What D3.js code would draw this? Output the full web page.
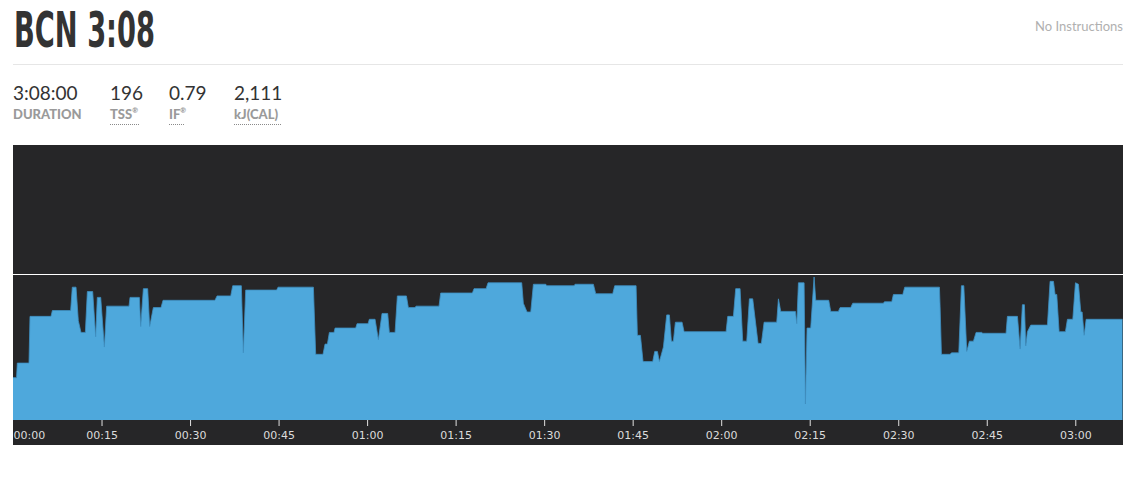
<!DOCTYPE html>
<html>
<head>
<meta charset="utf-8">
<script src="https://cdn.jsdelivr.net/npm/d3@7"></script>
<style>
  html, body { margin: 0; padding: 0; background: #fff; }
  svg { display: block; }
</style>
</head>
<body>
<svg id="chart" width="1148" height="483"></svg>
<script>
// ---- data ----
const workoutTitle = "BCN 3:08";
const instructionsText = "No Instructions";
const statValues = ["3:08:00", "196", "0.79", "2,111"];
const statLabels = ["DURATION", "TSS", "IF", "kJ(CAL)"];
const statRegistered = [false, true, true, false];
const statDotted = [false, true, true, true];

const durationMin = 188;
const ftpLinePct = 100;
const xTickMinutes = [0, 15, 30, 45, 60, 75, 90, 105, 120, 135, 150, 165, 180];

// time in minutes, power in % of FTP
const timeMin = [
  0, 0.6, 0.73, 2.71, 2.88, 6.44, 6.67, 9.77, 10.05, 10.68, 11.07, 11.52, 12.26, 12.6, 13.5, 14.01, 14.29, 14.86, 15.48, 15.87,
  19.66, 19.83, 21.41, 21.64, 22.09, 22.82, 23.16, 23.78, 25.08, 25.42, 34.23, 34.57, 36.89, 37.23, 38.69, 39.03, 39.43, 44.68, 44.91,
  50.9, 51.29, 52.53, 52.87, 53.27, 53.61, 54.4, 54.57, 58.07, 58.3, 60.16, 60.38, 61.35, 61.91, 62.53, 63.49, 63.77, 64.74, 65.13,
  66.66, 66.99, 68.12, 68.29, 72.19, 72.47, 77.84, 78.12, 80.16, 80.49, 86.2, 86.48, 87.1, 87.73, 88.18, 90.27, 90.44,
  95.07, 95.24, 98.34, 98.74, 101.62, 101.96, 105.58, 105.8, 106.31, 106.76, 108.4, 108.74, 109.19, 109.53, 110.21, 110.77, 111.22,
  111.56, 111.9, 112.24, 113.37, 113.71, 120.83, 121.11, 122.07, 122.46, 123.2, 123.65, 124.33, 124.78, 125.34, 126.25, 126.81,
  127.27, 129.41, 129.7, 130.09, 132.58, 132.81, 133.09, 134.05, 134.27, 134.55, 135.17, 135.74, 136.02, 138.22, 138.56, 139.86, 140.15,
  141.95, 142.29, 147.49, 147.66, 148.9, 149.18, 150.77, 151.1, 156.98, 157.09, 157.32, 158.79, 159.02, 160.26, 160.71, 161.11,
  161.61, 162.06, 162.74, 163.19, 164.15, 164.32, 168.27, 168.5, 170.2, 170.65, 171.04, 171.38, 171.61, 171.89, 172.46, 175.28,
  175.73, 176.3, 176.58, 176.86, 177.26, 178.33, 178.67, 179.58, 180.03, 180.54, 180.93, 181.16, 181.5, 181.84, 188
];
const powerPct = [
  29, 29, 39, 39, 71, 71, 75, 75, 91, 91, 68, 60, 60, 88, 88, 57, 84, 84, 50, 78,
  78, 84, 84, 64, 90, 90, 64, 77, 77, 82, 82, 85, 85, 92, 92, 46, 89, 89, 91,
  91, 45, 45, 52, 52, 60, 60, 63, 63, 66, 66, 69, 69, 55, 73, 73, 60, 60, 85,
  85, 77, 77, 78, 78, 87, 87, 90, 90, 94, 94, 80, 74, 74, 93, 93, 92,
  92, 93, 93, 86.5, 86.5, 92, 92, 58, 58, 40, 40, 47, 47, 40, 50, 72, 72,
  54, 54, 67, 67, 60.5, 60.5, 71, 71, 90, 90, 54, 54, 83, 83, 52.5, 52.5,
  67, 67, 83, 74.4, 74.4, 66, 94, 94, 11, 63, 63, 98, 82, 82, 74.4, 74.4, 77,
  77, 80, 80, 81, 81, 86, 86, 91, 91, 78, 45, 45, 46, 46, 92, 92,
  47, 54, 54, 60, 60, 59.4, 59.4, 71, 71, 48.6, 79, 79, 50.7, 60.5, 65, 65,
  95, 95, 86, 86, 60.5, 60.5, 69, 69, 94, 93, 74, 74, 58, 69, 69
];

// ---- layout ----
const svg = d3.select("#chart");
const plotLeft = 13, plotRight = 1122.5, plotTop = 145, plotBottom = 420, axisBottom = 445;

// header
svg.append("text")
  .attr("x", 14).attr("y", 46.5)
  .attr("font-family", "'Liberation Sans Narrow', 'DejaVu Sans Condensed', sans-serif")
  .attr("font-weight", "bold").attr("font-size", 50)
  .attr("fill", "#333333")
  .attr("textLength", 141).attr("lengthAdjust", "spacingAndGlyphs")
  .text(workoutTitle);

svg.append("text")
  .attr("x", 1123).attr("y", 31)
  .attr("text-anchor", "end")
  .attr("font-family", "Lato, 'Open Sans', sans-serif")
  .attr("font-size", 13).attr("fill", "#b0b0b0")
  .text(instructionsText);

svg.append("line")
  .attr("x1", 13).attr("x2", 1123).attr("y1", 64.5).attr("y2", 64.5)
  .attr("stroke", "#e6e6e6").attr("stroke-width", 1);

const statX = [13, 110, 169, 234];
const statLabelW = [68, 29, 16, 47];
statValues.forEach((v, i) => {
  svg.append("text")
    .attr("x", statX[i]).attr("y", 100)
    .attr("font-family", "Lato, 'Open Sans', sans-serif")
    .attr("font-size", 19).attr("fill", "#333")
    .text(v);
  const lbl = svg.append("text")
    .attr("x", statX[i]).attr("y", 119)
    .attr("font-family", "Lato, 'Open Sans', sans-serif")
    .attr("font-weight", "900")
    .attr("font-size", 13).attr("fill", "#9a9a9a");
  lbl.append("tspan").text(statLabels[i]);
  if (statRegistered[i]) {
    lbl.append("tspan").attr("font-size", 7).attr("dy", -6).text("®");
  }
  if (statDotted[i]) {
    svg.append("line")
      .attr("x1", statX[i]).attr("x2", statX[i] + statLabelW[i])
      .attr("y1", 124.5).attr("y2", 124.5)
      .attr("stroke", "#8a8a8a").attr("stroke-width", 1)
      .attr("stroke-dasharray", "1,1");
  }
});

// chart background
svg.append("rect")
  .attr("x", plotLeft).attr("y", plotTop)
  .attr("width", 1123 - plotLeft).attr("height", axisBottom - plotTop)
  .attr("fill", "#262628");

const x = d3.scaleLinear().domain([0, durationMin]).range([plotLeft, plotRight]);
const y = d3.scaleLinear().domain([0, 188.4]).range([plotBottom, plotTop]);

const pts = timeMin.map((t, i) => [t, powerPct[i]]);
const area = d3.area()
  .x(d => x(d[0]))
  .y0(y(0))
  .y1(d => y(d[1]))
  .curve(d3.curveLinear);

svg.append("path")
  .datum(pts)
  .attr("d", area)
  .attr("fill", "#4ea8dc");

const line = d3.line().x(d => x(d[0])).y(d => y(d[1]));
svg.append("path")
  .datum(pts)
  .attr("d", line)
  .attr("fill", "none")
  .attr("stroke", "#3f8fc2")
  .attr("stroke-width", 0.8);

// FTP line
svg.append("line")
  .attr("x1", plotLeft).attr("x2", 1123)
  .attr("y1", Math.round(y(ftpLinePct)) + 0.5).attr("y2", Math.round(y(ftpLinePct)) + 0.5)
  .attr("stroke", "#ffffff").attr("stroke-width", 1);

// x axis
const fmt = m => String(Math.floor(m / 60)).padStart(2, "0") + ":" + String(m % 60).padStart(2, "0");
const axis = d3.axisBottom(x)
  .tickValues(xTickMinutes)
  .tickFormat(fmt)
  .tickSizeInner(6).tickSizeOuter(0).tickPadding(5);

const gx = svg.append("g")
  .attr("transform", `translate(0,${plotBottom})`)
  .call(axis);
gx.select(".domain").remove();
gx.selectAll(".tick line").attr("stroke", "#e0e0e0").attr("stroke-width", 1);
gx.selectAll(".tick text")
  .attr("fill", "#dcdcdc")
  .attr("font-family", "'DejaVu Sans', sans-serif")
  .attr("font-size", 11);
gx.selectAll(".tick").filter(d => d === 0).select("line").remove();
gx.selectAll(".tick").filter(d => d === 0).select("text").attr("text-anchor", "start");
</script>
</body>
</html>
